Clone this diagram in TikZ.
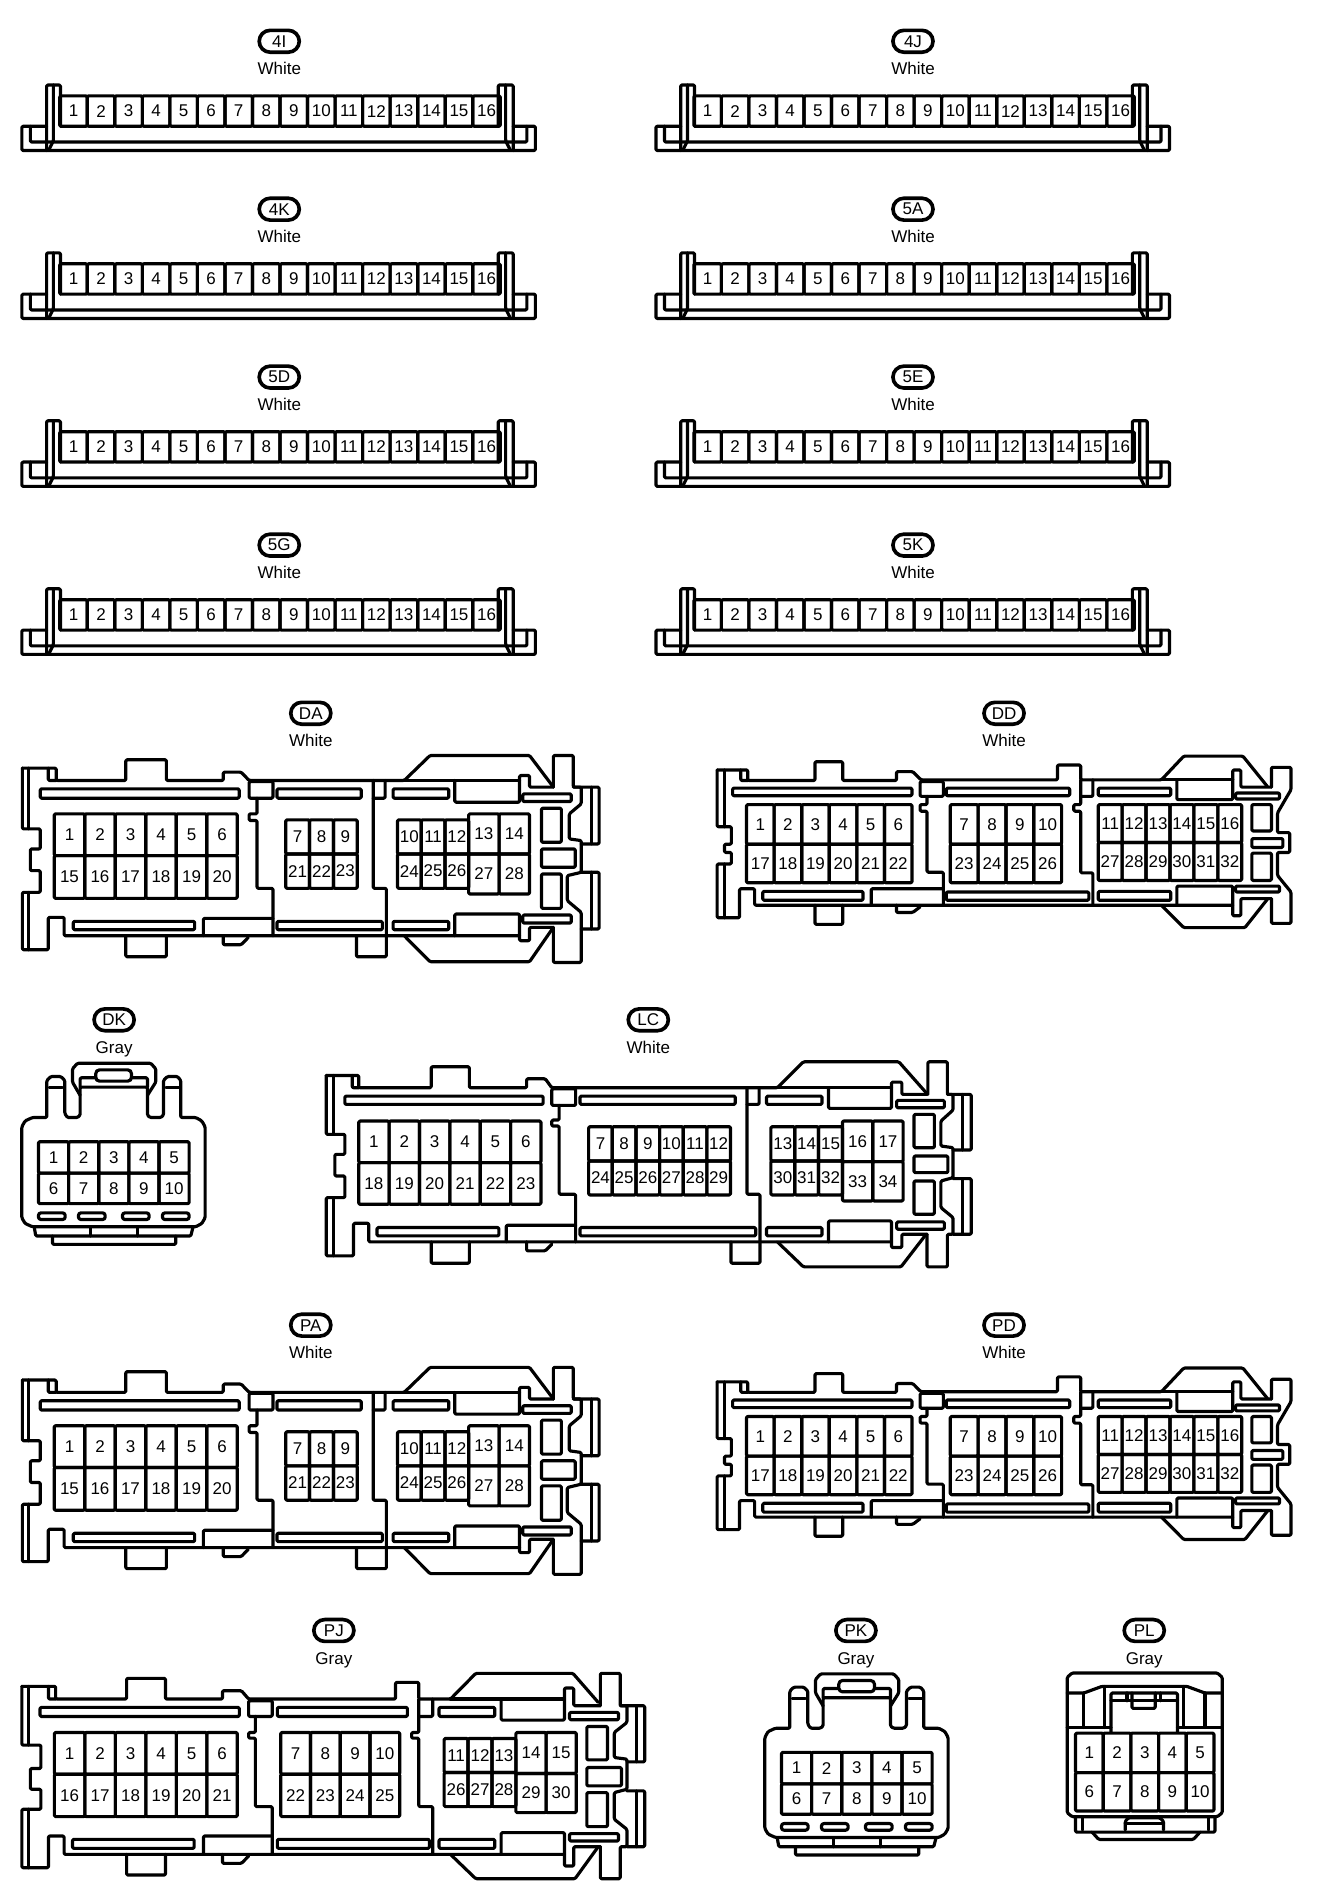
\documentclass[tikz,border=0pt]{standalone}
\usepackage{fontspec}
\setmainfont{Liberation Sans}
\usetikzlibrary{positioning}
\tikzset{
	shell/.style={line width=2.6pt, line join=round, line cap=round, rounded corners=1pt},
	pinnum/.style={inner sep=0pt, font=\fontsize{14}{14}\selectfont},
	tagpill/.style={draw, line width=3pt, rounded corners=9pt, minimum width=33pt, minimum height=18pt, inner sep=0pt, font=\fontsize{14}{14}\selectfont},
	colourtag/.style={below=7pt of #1, inner sep=0pt, text height=10pt, text depth=3pt, font=\fontsize{14}{14}\selectfont},
}
% row of pin cells: x0, dx, y0, y1, first number, count
\newcommand{\pinrow}[6]{
	\foreach \k in {1,...,#6}{
		\pgfmathtruncatemacro{\num}{#5+\k-1}
		\draw[shell] ({#1+(\k-1)*#2},#3) rectangle ({#1+\k*#2},#4);
		\node[pinnum] (\conn-\num) at ({#1+(\k-0.5)*#2},{(#3+#4)/2}) {\num};
	}
}
% pill and colour name, at coordinates
\newcommand{\connlabel}[4]{
	\node[tagpill] (#1) at (#2pt,-#3pt) {#1};
	\node[colourtag=#1] (#1-colour) {#4};
}
% 16 pin strip
\newcommand{\stripconn}[3]{
	\begin{scope}[x=1pt, y=-1pt, shift={(#2pt,-#3pt)}]
		\def\conn{#1}
		\draw[shell] (20.4,34) -- (0,34) -- (0,54) -- (423,54) -- (423,34) -- (404.7,34);
		\draw[shell] (7,34) -- (7,47) -- (416,47) -- (416,34);
		\draw[shell] (20.4,54) -- (20.4,0) -- (31.8,0) -- (31.8,34);
		\draw[shell] (26,0) -- (26,46) -- (22,54);
		\draw[shell] (404.7,54) -- (404.7,0) -- (392.4,0) -- (392.4,34);
		\draw[shell] (398.5,0) -- (398.5,46) -- (402.5,54);
		\pinrow{31.2}{22.68}{9}{34}{1}{16}
	\end{scope}
}
\newcommand{\drawDA}[2]{
	\begin{scope}[x=.3276pt, y=-.275pt, shift={(-1.2pt,-#2pt)}]
		\def\conn{#1}
		\draw[shell] (60,268) -- (145,268) -- (145,305) -- (320,305) -- (320,243) -- (422,243) -- (422,305) -- (565,305) -- (565,280) -- (610,280) -- (630,305) -- (1020,305) -- (1085,230) -- (1335,230) -- (1392,320);
		\draw[shell] (1020,305) -- (1310,305);
		\draw[shell] (1395,325) -- (1395,230) -- (1445,230) -- (1445,325) -- (1510,325) -- (1510,495) -- (1465,495);
		\draw[shell] (1445,325) -- (1465,325) -- (1465,375) -- (1435,405) -- (1435,480) -- (1465,485) -- (1465,580) -- (1430,590) -- (1430,665) -- (1465,700) -- (1465,850) -- (1395,850) -- (1395,745);
		\draw[shell] (1465,580) -- (1510,580) -- (1510,750) -- (1465,750);
		\draw[shell] (1490,325) -- (1490,495); \draw[shell] (1490,580) -- (1490,750);
		\draw[shell] (1392,750) -- (1335,848) -- (1085,848) -- (1020,770);
		\draw[shell] (60,268) -- (60,450) -- (105,450) -- (105,510) -- (80,510) -- (80,575) -- (105,575) -- (105,640) -- (60,640) -- (60,812) -- (125,812) -- (125,715) -- (165,715) -- (165,770) -- (1310,770);
		\draw[shell] (75,268) -- (75,450); \draw[shell] (75,640) -- (75,812);
		\draw[shell] (125,268) -- (125,305) -- (145,305);
		\draw[shell] (320,770) -- (320,833) -- (422,833) -- (422,770);
		\draw[shell] (565,770) -- (565,797) -- (610,797) -- (628,775);
		\draw[shell] (900,770) -- (900,833) -- (975,833) -- (975,770);
		\foreach \a/\b/\c/\d in {105/330/605/358, 630/308/690/358, 700/330/912/358, 992/330/1132/358, 1318/345/1440/368, 188/727/493/752, 700/727/965/752, 992/727/1132/752, 1318/708/1440/732, 1365/388/1415/490, 1365/510/1450/565, 1365/585/1415/688}{
			\draw[shell] (\a,\b) rectangle (\c,\d);
		}
		\draw[shell] (650,358) -- (650,405) -- (630,405) -- (630,425) -- (650,425) -- (650,628) -- (690,628) -- (690,770);
		\draw[shell] (942,305) -- (942,628) -- (975,628) -- (975,770);
		\draw[shell] (942,358) -- (972,358) -- (972,305);
		\draw[shell] (1147,305) -- (1147,370) -- (1310,370) -- (1310,290) -- (1335,290) -- (1335,325) -- (1395,325);
		\draw[shell] (1147,770) -- (1147,705) -- (1310,705) -- (1310,785) -- (1335,785) -- (1335,745) -- (1395,745);
		\draw[shell] (515,770) -- (515,718) -- (690,718);
		\pinrow{140}{76.7}{405}{530}{1}{6}
		\pinrow{140}{76.7}{530}{658}{15}{6}
		\pinrow{722}{60}{423}{525}{7}{3}
		\pinrow{722}{60}{525}{628}{21}{3}
		\pinrow{1003}{59.7}{423}{525}{10}{3}
		\pinrow{1003}{59.7}{525}{628}{24}{3}
		\pinrow{1182}{76.5}{405}{525}{13}{2}
		\pinrow{1182}{76.5}{525}{645}{27}{2}
	\end{scope}
}
\newcommand{\drawDD}[2]{
	\begin{scope}[x=.3357pt, y=-.2717pt, shift={(567.2pt,-#2pt)}]
		\def\conn{#1}
		\draw[shell] (70,240) -- (145,240) -- (145,272) -- (310,272) -- (310,215) -- (378,215) -- (378,272) -- (510,272) -- (510,245) -- (550,245) -- (570,270) -- (905,270) -- (905,225) -- (962,225) -- (962,270) -- (1160,270) -- (1215,198) -- (1360,198) -- (1420,290);
		\draw[shell] (1160,270) -- (1335,270);
		\draw[shell] (1430,292) -- (1430,232) -- (1478,232) -- (1478,300) -- (1445,370) -- (1445,430) -- (1475,430) -- (1475,490) -- (1445,490) -- (1445,560) -- (1478,610) -- (1478,705) -- (1430,705) -- (1430,630);
		\draw[shell] (70,240) -- (70,412) -- (105,412) -- (105,465) -- (88,465) -- (88,490) -- (105,490) -- (105,525) -- (70,525) -- (70,688) -- (125,688) -- (125,600) -- (162,600) -- (162,650) -- (1335,650);
		\draw[shell] (88,240) -- (88,412); \draw[shell] (88,525) -- (88,688);
		\draw[shell] (128,240) -- (128,272) -- (145,272);
		\draw[shell] (310,650) -- (310,708) -- (378,708) -- (378,650);
		\draw[shell] (510,650) -- (510,672) -- (550,672) -- (568,655);
		\draw[shell] (1160,650) -- (1215,718) -- (1365,718) -- (1420,632);
		\foreach \a/\b/\c/\d in {108/295/548/318, 568/275/625/320, 632/295/935/318, 1005/295/1183/318, 1342/310/1450/328, 182/608/428/635, 632/610/982/635, 1005/608/1183/635, 1342/592/1450/610, 1382/345/1430/425, 1382/448/1458/475, 1382/492/1430/575}{
			\draw[shell] (\a,\b) rectangle (\c,\d);
		}
		\draw[shell] (585,320) -- (585,345) -- (568,345) -- (568,365) -- (585,365) -- (585,550) -- (625,550) -- (625,650);
		\draw[shell] (962,270) -- (962,345) -- (945,345) -- (945,365) -- (962,365) -- (962,552) -- (992,552) -- (992,650);
		\draw[shell] (992,270) -- (992,320) -- (962,320);
		\draw[shell] (1198,270) -- (1198,330) -- (1335,330) -- (1335,240) -- (1355,240) -- (1355,292) -- (1430,292);
		\draw[shell] (1198,650) -- (1198,592) -- (1335,592) -- (1335,682) -- (1355,682) -- (1355,630) -- (1430,630);
		\draw[shell] (448,650) -- (448,600) -- (625,600);
		\pinrow{142}{67.7}{345}{465}{1}{6}
		\pinrow{142}{67.7}{465}{582}{17}{6}
		\pinrow{642}{68.3}{345}{465}{7}{4}
		\pinrow{642}{68.3}{465}{582}{23}{4}
		\pinrow{1005}{58.7}{345}{460}{11}{6}
		\pinrow{1005}{58.7}{460}{575}{27}{6}
	\end{scope}
}
\newcommand{\drawDK}[3]{
	\begin{scope}[x=.2745pt, y=-.2727pt, shift={(#2pt,-#3pt)}]
		\def\conn{#1}
		\draw[shell] (68,380) -- (78,362) -- (100,352) -- (143,352) -- (143,240) -- (155,228) -- (185,228) -- (197,240) -- (197,340) -- (205,352) -- (235,352) -- (243,345) -- (243,260) -- (445,260) -- (445,345) -- (453,352) -- (485,352) -- (493,345) -- (493,240) -- (505,228) -- (535,228) -- (545,240) -- (545,352) -- (590,352) -- (608,362) -- (618,380) -- (618,655) -- (608,672) -- (590,682) -- (100,682) -- (78,672) -- (68,655) -- cycle;
		\draw[shell] (150,262) -- (190,262); \draw[shell] (500,262) -- (540,262);
		\draw[shell] (243,285) -- (220,245) -- (220,205) -- (235,188) -- (455,188) -- (470,205) -- (470,245) -- (445,285);
		\draw[shell] (243,260) -- (243,232) -- (290,232); \draw[shell] (397,232) -- (445,232) -- (445,260);
		\draw[shell, rounded corners=3pt] (290,208) rectangle (397,242);
		\foreach \a in {118,238,370,490}{
			\draw[shell, rounded corners=2pt] (\a,640) rectangle (\a+80,660);
		}
		\draw[shell] (105,682) -- (110,710) -- (575,710) -- (582,682);
		\draw[shell] (275,685) -- (275,710); \draw[shell] (415,685) -- (415,710);
		\draw[shell] (160,710) -- (160,735) -- (530,735) -- (530,710);
		\pinrow{118}{90.4}{425}{520}{1}{5}
		\pinrow{118}{90.4}{520}{612}{6}{5}
	\end{scope}
}
\begin{document}
\begin{tikzpicture}
	\useasboundingbox (0pt,0pt) rectangle (1094pt,-1568.3pt);
	% strips
	\foreach \s\x\y/\c in {4I/18/70/230, 4J/540.3/70/752, 4K/18/208.3/230, 5A/540.3/208.3/752, 5D/18/346.6/230, 5E/540.3/346.6/752, 5G/18/485/230, 5K/540.3/485/752}{
		\stripconn{\s}{\x}{\y}
		\pgfmathsetmacro{\ly}{\y-36}
		\connlabel{\s}{\c}{\ly}{White}
	}
	% big ones
	\drawDA{DA}{559}
	\connlabel{DA}{256}{587.5}{White}
	\drawDD{DD}{569}
	\connlabel{DD}{827}{587.5}{White}
	\drawDA{PA}{1063}
	\connlabel{PA}{256}{1091.5}{White}
	\drawDD{PD}{1073}
	\connlabel{PD}{827}{1091.5}{White}
	\drawDK{DK}{-.7}{824.5}
	\connlabel{DK}{94}{840}{Gray}
	\drawDK{PK}{611.3}{1327.5}
	\connlabel{PK}{705}{1343}{Gray}
	% LC
	\begin{scope}[x=.3573pt, y=-.2742pt, shift={(256.2pt,-823.3pt)}]
		\def\conn{LC}
		\draw[shell] (35,228) -- (110,228) -- (110,265) -- (277,265) -- (277,202) -- (365,202) -- (365,265) -- (497,265) -- (497,238) -- (540,238) -- (555,265) -- (1075,265) -- (1135,187) -- (1355,187) -- (1418,280);
		\draw[shell] (1075,265) -- (1338,265);
		\draw[shell] (1422,285) -- (1422,187) -- (1467,187) -- (1467,285) -- (1522,285) -- (1522,452) -- (1480,452);
		\draw[shell] (1467,285) -- (1480,285) -- (1480,332) -- (1452,365) -- (1452,440) -- (1480,445) -- (1480,535) -- (1452,545) -- (1452,625) -- (1480,655) -- (1480,705) -- (1467,705) -- (1467,803) -- (1420,803) -- (1420,705);
		\draw[shell] (1480,538) -- (1522,538) -- (1522,705) -- (1480,705);
		\draw[shell] (1502,285) -- (1502,452); \draw[shell] (1502,538) -- (1502,705);
		\draw[shell] (1418,705) -- (1360,803) -- (1135,803) -- (1075,728);
		\draw[shell] (35,228) -- (35,405) -- (78,405) -- (78,465) -- (55,465) -- (55,530) -- (78,530) -- (78,595) -- (35,595) -- (35,770) -- (98,770) -- (98,672) -- (133,672) -- (133,728) -- (1338,728);
		\draw[shell] (52,228) -- (52,405); \draw[shell] (52,595) -- (52,770);
		\draw[shell] (95,228) -- (95,265) -- (110,265);
		\draw[shell] (277,728) -- (277,792) -- (365,792) -- (365,728);
		\draw[shell] (497,728) -- (497,755) -- (540,755) -- (555,735);
		\draw[shell] (968,728) -- (968,792) -- (1035,792) -- (1035,728);
		\foreach \a/\b/\c/\d in {78/290/535/315, 555/268/610/318, 620/290/978/315, 1050/290/1178/315, 1350/303/1460/325, 152/685/433/710, 620/685/1025/710, 1050/685/1178/710, 1350/668/1460/690, 1390/345/1437/445, 1390/470/1468/520, 1390/545/1437/645}{
			\draw[shell] (\a,\b) rectangle (\c,\d);
		}
		\draw[shell] (572,318) -- (572,362) -- (555,362) -- (555,380) -- (572,380) -- (572,585) -- (610,585) -- (610,728);
		\draw[shell] (1005,265) -- (1005,585) -- (1035,585) -- (1035,728);
		\draw[shell] (1005,315) -- (1033,315) -- (1033,265);
		\draw[shell] (1193,265) -- (1193,327) -- (1338,327) -- (1338,248) -- (1362,248) -- (1362,285) -- (1420,285);
		\draw[shell] (1193,728) -- (1193,665) -- (1338,665) -- (1338,745) -- (1362,745) -- (1362,705) -- (1420,705);
		\draw[shell] (450,728) -- (450,678) -- (610,678);
		\pinrow{110}{70}{365}{490}{1}{6}
		\pinrow{110}{70}{490}{615}{18}{6}
		\pinrow{640}{54.5}{382}{485}{7}{6}
		\pinrow{640}{54.5}{485}{587}{24}{6}
		\pinrow{1060}{55}{382}{485}{13}{3}
		\pinrow{1060}{55}{485}{587}{30}{3}
		\pinrow{1225}{70}{365}{487}{16}{2}
		\pinrow{1225}{70}{487}{605}{33}{2}
	\end{scope}
	\connlabel{LC}{534}{840}{White}
	% PJ
	\begin{scope}[x=.3478pt, y=-.2751pt, shift={(-1.1pt,-1325.2pt)}]
		\def\conn{PJ}
		\draw[shell] (55,232) -- (135,232) -- (135,270) -- (303,270) -- (303,208) -- (395,208) -- (395,270) -- (530,270) -- (530,245) -- (575,245) -- (592,270) -- (940,270) -- (940,220) -- (995,220) -- (995,270) -- (1070,270) -- (1130,193) -- (1360,193) -- (1420,280);
		\draw[shell] (1070,270) -- (1340,270);
		\draw[shell] (1425,290) -- (1425,193) -- (1472,193) -- (1472,290) -- (1530,290) -- (1530,458) -- (1488,458);
		\draw[shell] (1472,290) -- (1488,290) -- (1488,340) -- (1458,370) -- (1458,445) -- (1488,450) -- (1488,540) -- (1458,550) -- (1458,630) -- (1488,660) -- (1488,712) -- (1472,712) -- (1472,808) -- (1425,808) -- (1425,712);
		\draw[shell] (1488,545) -- (1530,545) -- (1530,712) -- (1488,712);
		\draw[shell] (1510,290) -- (1510,458); \draw[shell] (1510,545) -- (1510,712);
		\draw[shell] (1420,712) -- (1365,808) -- (1130,808) -- (1070,735);
		\draw[shell] (55,232) -- (55,408) -- (100,408) -- (100,478) -- (75,478) -- (75,540) -- (100,540) -- (100,600) -- (55,600) -- (55,775) -- (118,775) -- (118,680) -- (155,680) -- (155,735) -- (1340,735);
		\draw[shell] (70,232) -- (70,408); \draw[shell] (70,600) -- (70,775);
		\draw[shell] (118,232) -- (118,270) -- (135,270);
		\draw[shell] (303,735) -- (303,797) -- (395,797) -- (395,735);
		\draw[shell] (530,735) -- (530,762) -- (575,762) -- (592,740);
		\foreach \a/\b/\c/\d in {98/295/570/322, 592/275/648/322, 660/295/968/322, 1043/295/1175/322, 1352/310/1468/332, 175/690/463/717, 660/690/1020/717, 1043/690/1175/717, 1352/673/1468/695, 1393/352/1442/452, 1393/475/1475/530, 1393/550/1442/652}{
			\draw[shell] (\a,\b) rectangle (\c,\d);
		}
		\draw[shell] (608,322) -- (608,370) -- (592,370) -- (592,387) -- (608,387) -- (608,592) -- (648,592) -- (648,735);
		\draw[shell] (995,270) -- (995,370) -- (978,370) -- (978,387) -- (995,387) -- (995,592) -- (1028,592) -- (1028,735);
		\draw[shell] (995,322) -- (1028,322) -- (1028,270);
		\draw[shell] (485,735) -- (485,680) -- (648,680);
		\draw[shell] (1190,270) -- (1190,333) -- (1340,333) -- (1340,237) -- (1362,237) -- (1362,290) -- (1425,290);
		\draw[shell] (1190,735) -- (1190,670) -- (1340,670) -- (1340,770) -- (1362,770) -- (1362,712) -- (1425,712);
		\pinrow{132}{72.2}{370}{495}{1}{6}
		\pinrow{132}{72.2}{495}{622}{16}{6}
		\pinrow{668}{70.5}{370}{495}{7}{4}
		\pinrow{668}{70.5}{495}{622}{22}{4}
		\pinrow{1055}{56.7}{388}{490}{11}{3}
		\pinrow{1055}{56.7}{490}{592}{26}{3}
		\pinrow{1225}{71.5}{370}{493}{14}{2}
		\pinrow{1225}{71.5}{493}{610}{29}{2}
	\end{scope}
	\connlabel{PJ}{275}{1343}{Gray}
	% PL
	\begin{scope}[x=.2735pt, y=-.2754pt, shift={(611pt,-1325.1pt)}]
		\def\conn{PL}
		\draw[shell] (980,205) -- (995,192) -- (1432,192) -- (1447,205) -- (1447,610) -- (1432,622) -- (995,622) -- (980,610) -- cycle;
		\draw[shell] (980,252) -- (1030,252) -- (1085,232) -- (1340,232) -- (1395,252) -- (1447,252);
		\draw[shell] (1030,252) -- (1030,355); \draw[shell] (1395,252) -- (1395,355);
		\draw[shell] (1092,232) -- (1092,355); \draw[shell] (1330,232) -- (1330,355);
		\draw[shell] (980,355) -- (1112,355); \draw[shell] (1312,355) -- (1447,355);
		\draw[shell] (1112,368) -- (1112,252) -- (1312,252) -- (1312,368);
		\draw[shell] (1112,275) -- (1312,275);
		\draw[shell] (1175,252) -- (1175,298) -- (1245,298) -- (1245,252);
		\draw[shell] (1160,252) -- (1160,275); \draw[shell] (1262,252) -- (1262,275);
		\draw[shell] (1005,622) -- (1005,668) -- (1425,668) -- (1425,622);
		\draw[shell] (1025,622) -- (1025,662); \draw[shell] (1405,622) -- (1405,662);
		\draw[shell] (1055,668) -- (1075,690) -- (1360,690) -- (1380,668);
		\draw[shell] (1155,662) -- (1155,635) -- (1165,625) -- (1258,625) -- (1270,635) -- (1270,662);
		\draw[shell] (1155,642) -- (1270,642);
		\pinrow{1005}{83.4}{372}{490}{1}{5}
		\pinrow{1005}{83.4}{490}{605}{6}{5}
	\end{scope}
	\connlabel{PL}{942.5}{1343}{Gray}
\end{tikzpicture}
\end{document}
